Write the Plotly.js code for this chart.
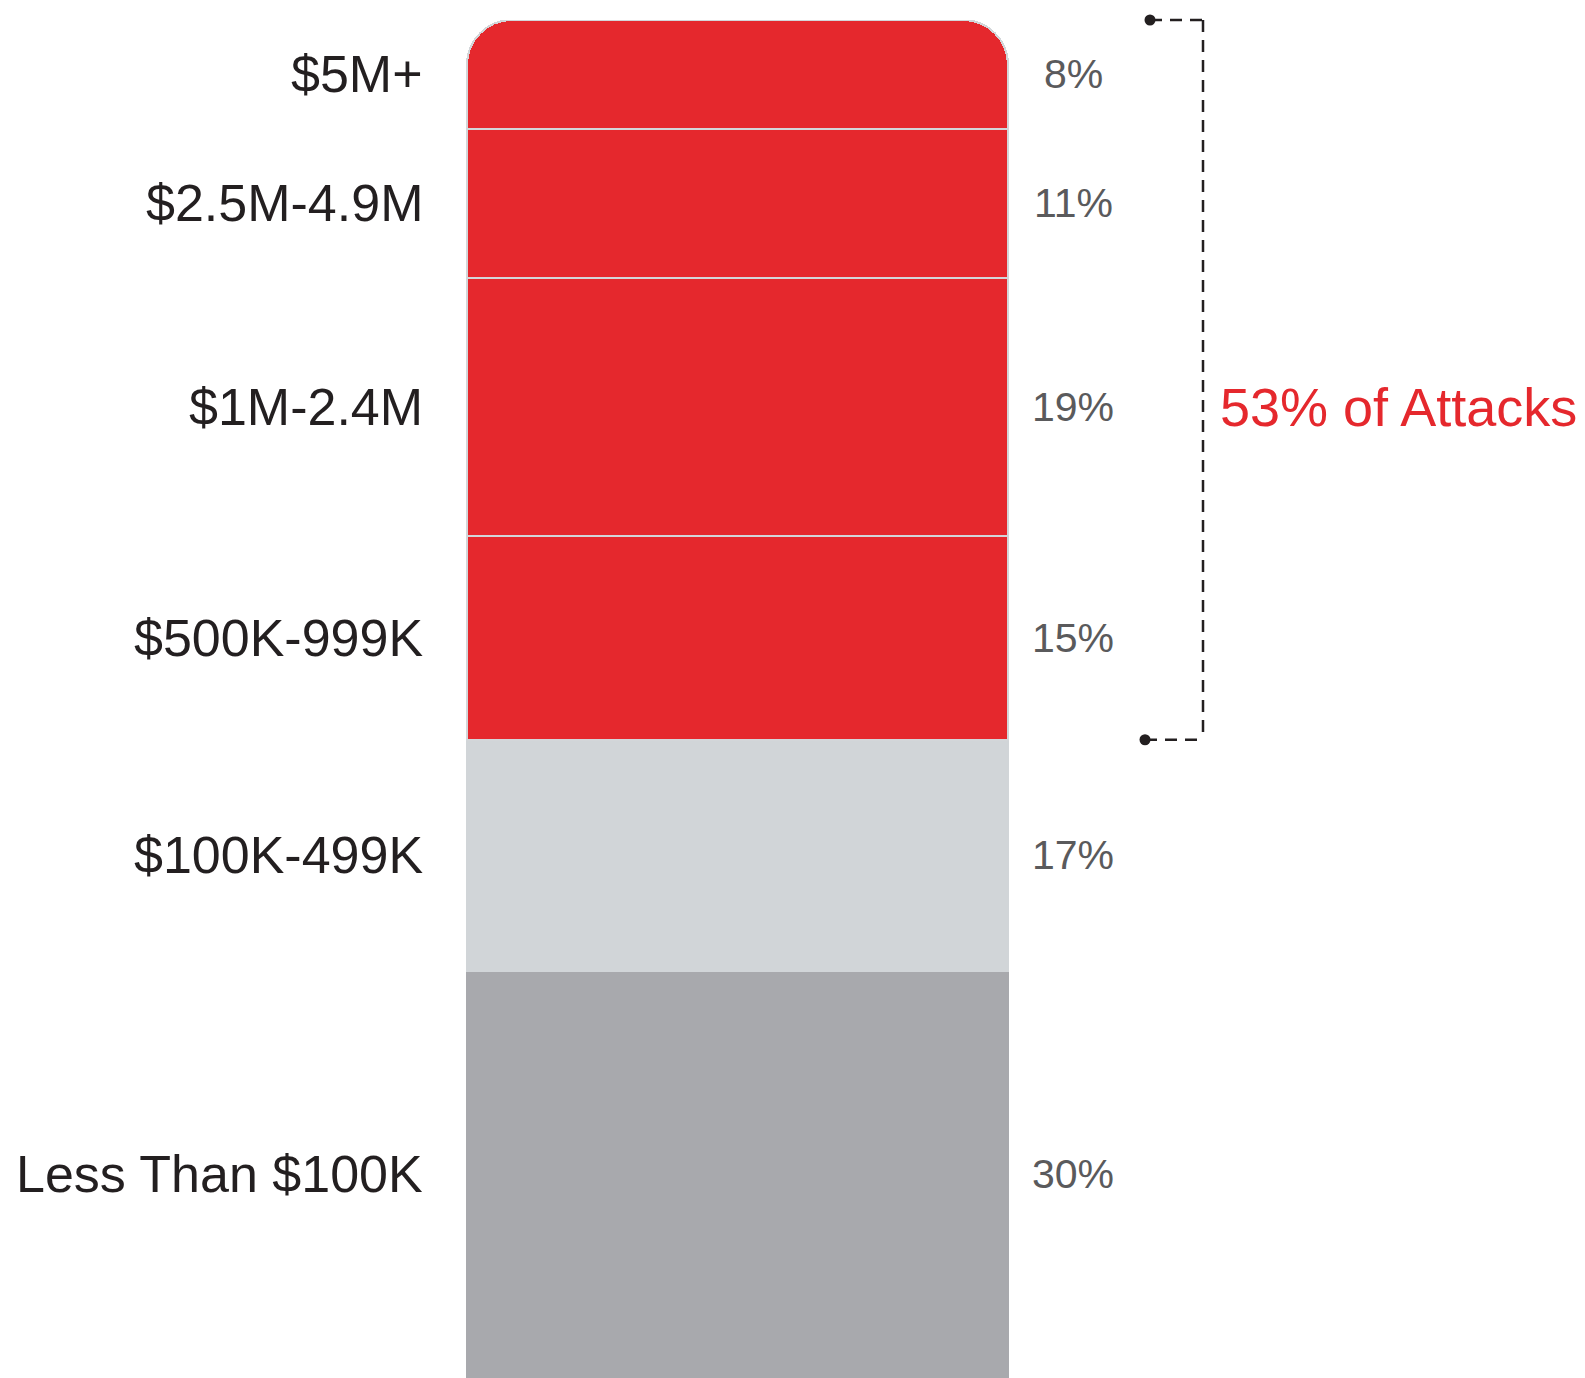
<!DOCTYPE html>
<html>
<head>
<meta charset="utf-8">
<script src="https://cdn.plot.ly/plotly-3.0.1.min.js"></script>
<style>html,body{margin:0;padding:0;background:#fff;}#chart{width:1585px;height:1378px;}</style>
</head>
<body>
<div id="chart"></div>
<script>
// Data (bottom to top of the stack)
const categories = ["Less Than $100K", "$100K-499K", "$500K-999K", "$1M-2.4M", "$2.5M-4.9M", "$5M+"];
const shares = [30, 17, 15, 19, 11, 8];
const shareLabels = ["30%", "17%", "15%", "19%", "11%", "8%"];
const highlightFrom = 2; // index of first segment in the bracket
const bracketLabel = "53% of Attacks";

const RED = "#E5282D", LIGHT = "#D1D5D8", DARK = "#A8A9AD";
const fills = categories.map((c, i) => i === 0 ? DARK : (i === 1 ? LIGHT : RED));
const lines = categories.map((c, i) => i === 0 ? DARK : (i === 1 ? LIGHT : "#D3D6D9"));

const W = 1585, H = 1378;
const barLeft = 467, barRight = 1008;
const unit = barRight - barLeft;
const xr = [-0.5 - barLeft / unit, 0.5 + (W - barRight) / unit];
const YMAX = 100;

const traces = categories.map((c, i) => ({
  type: "bar", x: [0], y: [shares[i]], width: 1, name: c,
  marker: {color: fills[i], line: {color: lines[i], width: 2}},
  hoverinfo: "skip", showlegend: false
}));

const cum = [];
let s = 0;
shares.forEach(v => { cum.push(s + v / 2); s += v; });
const bracketBottom = shares.slice(0, highlightFrom).reduce((a, b) => a + b, 0);
const bracketTop = s;

const annotations = [];
categories.forEach((c, i) => {
  annotations.push({
    xref: "paper", yref: "y", x: 425 / W, y: cum[i], xanchor: "right", yanchor: "middle",
    text: c, showarrow: false,
    font: {family: "Liberation Sans, Arial, sans-serif", size: 52, color: "#231F20"}
  });
  annotations.push({
    xref: "paper", yref: "y", x: 1073 / W, y: cum[i], xanchor: "center", yanchor: "middle",
    text: shareLabels[i], showarrow: false,
    font: {family: "Liberation Sans, Arial, sans-serif", size: 41, color: "#5A5A5C"}
  });
});
annotations.push({
  xref: "paper", yref: "y", x: 1218 / W, y: cum[3], xanchor: "left", yanchor: "middle",
  text: bracketLabel, showarrow: false,
  font: {family: "Liberation Sans, Arial, sans-serif", size: 54, color: RED}
});

// bracket drawn in paper coordinates (y range [0, YMAX] spans the plot area)
const pt = bracketTop / YMAX, pb = bracketBottom / YMAX;
const bx = 1203 / W, dotTop = 1150 / W, dotBot = 1145 / W;
const dashLine = {color: "#231F20", width: 2.5, dash: "12px,8px"};
const shapes = [
  {type: "line", xref: "paper", yref: "paper", x0: dotTop, x1: bx, y0: pt, y1: pt, line: dashLine},
  {type: "line", xref: "paper", yref: "paper", x0: bx, x1: bx, y0: pt, y1: pb, line: dashLine},
  {type: "line", xref: "paper", yref: "paper", x0: dotBot, x1: bx, y0: pb, y1: pb, line: dashLine},
  {type: "circle", xref: "paper", yref: "paper", xsizemode: "pixel", ysizemode: "pixel",
   xanchor: dotTop, yanchor: pt, x0: -5.5, x1: 5.5, y0: -5.5, y1: 5.5,
   fillcolor: "#231F20", line: {width: 0}},
  {type: "circle", xref: "paper", yref: "paper", xsizemode: "pixel", ysizemode: "pixel",
   xanchor: dotBot, yanchor: pb, x0: -5.5, x1: 5.5, y0: -5.5, y1: 5.5,
   fillcolor: "#231F20", line: {width: 0}}
];

const layout = {
  width: W, height: H,
  margin: {l: 0, r: 0, t: 20, b: 0, pad: 0},
  paper_bgcolor: "#ffffff", plot_bgcolor: "#ffffff",
  barmode: "stack", barcornerradius: 45,
  xaxis: {range: xr, visible: false, fixedrange: true},
  yaxis: {range: [0, YMAX], visible: false, fixedrange: true},
  annotations: annotations, shapes: shapes,
  hovermode: false, showlegend: false
};

Plotly.newPlot("chart", traces, layout, {displayModeBar: false, staticPlot: true});
</script>
</body>
</html>
